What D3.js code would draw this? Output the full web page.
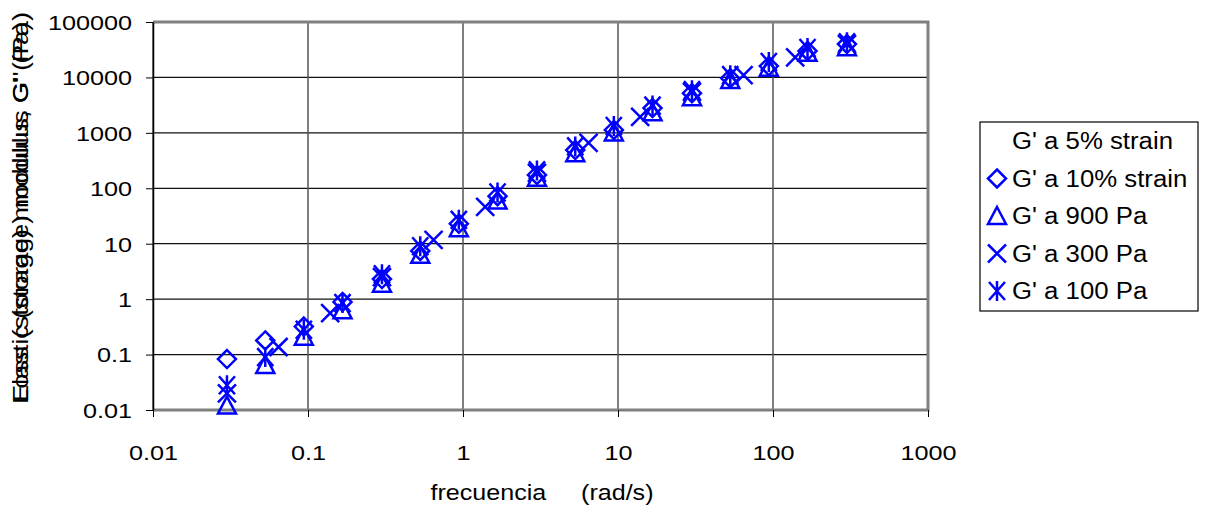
<!DOCTYPE html>
<html><head><meta charset="utf-8">
<script src="https://cdn.jsdelivr.net/npm/d3@7"></script>
<style>body{margin:0;background:#fff}svg{display:block}text{font-family:"Liberation Sans",Arial,sans-serif;fill:#000}</style>
</head><body>
<svg id="c" width="1206" height="506"></svg>
<script>
// ---- data ----
const xTicks = [0.01, 0.1, 1, 10, 100, 1000];
const xTickLabels = ["0.01", "0.1", "1", "10", "100", "1000"];
const yTicks = [0.01, 0.1, 1, 10, 100, 1000, 10000, 100000];
const yTickLabels = ["0.01", "0.1", "1", "10", "100", "1000", "10000", "100000"];
const freqA = [0.03, 0.053, 0.094, 0.167, 0.3, 0.53, 0.94, 1.67, 3, 5.3, 9.4, 16.7, 30, 53, 94, 167, 300];
const freqB = [0.03, 0.0646, 0.139, 0.3, 0.646, 1.39, 3, 6.46, 13.9, 30, 64.6, 139, 300];
const g5strain = [];
const g10strain = [0.083, 0.18, 0.32, 0.89, 2.3, 7.4, 23, 72, 174, 490, 1130, 2800, 5200, 9700, 16000, 30000, 40000];
const g900Pa = [0.012, 0.065, 0.21, 0.63, 1.9, 6.3, 19, 60, 155, 430, 1020, 2350, 4400, 9000, 15000, 28000, 35000];
const g300Pa = [0.02, 0.137, 0.56, 2.5, 11.7, 46, 190, 660, 1940, 5500, 11000, 23000, 40000];
const g100Pa = [0.028, 0.09, 0.28, 0.85, 2.8, 9, 27, 84, 210, 570, 1330, 3100, 5900, 11000, 19000, 34000, 43000];
const seriesNames = ["G' a 5% strain", "G' a 10% strain", "G' a 900 Pa", "G' a 300 Pa", "G' a 100 Pa"];
const xTitle = "frecuencia     (rad/s)";
const yTitleA = "Elastic (storage) modulus G' (Pa)";
const yTitleB = "Loss (storage) modulus, G'' (Pa)";

const series = [
  {name: seriesNames[0], freq: [], vals: g5strain, sym: "none"},
  {name: seriesNames[1], freq: freqA, vals: g10strain, sym: "diamond"},
  {name: seriesNames[2], freq: freqA, vals: g900Pa, sym: "triangle"},
  {name: seriesNames[3], freq: freqB, vals: g300Pa, sym: "x"},
  {name: seriesNames[4], freq: freqA, vals: g100Pa, sym: "star"}
];

const svg = d3.select("#c");
const L = 153, R = 928, T = 22, B = 410;
const x = d3.scaleLog().domain([0.01, 1000]).range([L, R]);
const y = d3.scaleLog().domain([0.01, 100000]).range([B, T]);
const blue = "#0000ff";
const FONT = "Liberation Sans, Arial, sans-serif";

function stretch(sel, f) {
  sel.each(function () {
    const w = this.getComputedTextLength();
    d3.select(this).attr("textLength", w * f).attr("lengthAdjust", "spacingAndGlyphs");
  });
}

// gridlines
svg.append("g").selectAll("line").data(yTicks).join("line")
  .attr("x1", L).attr("x2", R).attr("y1", d => y(d)).attr("y2", d => y(d))
  .attr("stroke", "#111").attr("stroke-width", 1.2);
svg.append("g").selectAll("line").data(xTicks).join("line")
  .attr("x1", d => x(d)).attr("x2", d => x(d)).attr("y1", T).attr("y2", B)
  .attr("stroke", "#555").attr("stroke-width", 1.5);

// frame (top, right, bottom gray)
svg.append("path").attr("d", `M${L},${T}H${R}V${B}H${L}`).attr("fill", "none")
  .attr("stroke", "#808080").attr("stroke-width", 3);

// axes
const yAxis = d3.axisLeft(y).tickValues(yTicks).tickFormat((d, i) => yTickLabels[i]).tickSize(7).tickSizeOuter(0).tickPadding(14);
const gy = svg.append("g").attr("transform", `translate(${L},0)`).call(yAxis);
gy.select(".domain").attr("stroke", "#000").attr("stroke-width", 1.5);
gy.selectAll("line").attr("stroke", "#000");
gy.selectAll("text").attr("font-size", 21).attr("font-family", FONT).attr("dy", "0.35em").call(stretch, 1.2);

const xAxis = d3.axisBottom(x).tickValues(xTicks).tickFormat((d, i) => xTickLabels[i]).tickSize(7).tickSizeOuter(0).tickPadding(28);
const gx = svg.append("g").attr("transform", `translate(0,${B})`).call(xAxis);
gx.select(".domain").remove();
gx.selectAll("line").attr("stroke", "#000");
gx.selectAll("text").attr("font-size", 21).attr("font-family", FONT).call(stretch, 1.2);

// titles
svg.append("text").attr("x", 542).attr("y", 500).attr("text-anchor", "middle").attr("font-size", 22)
  .attr("xml:space", "preserve").style("white-space", "pre").text(xTitle).call(stretch, 1.14);
svg.append("text").attr("transform", "translate(28,212) rotate(-90)").attr("text-anchor", "middle")
  .attr("font-size", 22).attr("textLength", 380).attr("lengthAdjust", "spacingAndGlyphs").text(yTitleA);
svg.append("text").attr("transform", "translate(28,208) rotate(-90)").attr("text-anchor", "middle")
  .attr("font-size", 22).attr("textLength", 392).attr("lengthAdjust", "spacingAndGlyphs").text(yTitleB);

// marker shapes
function markerPath(sym) {
  const p = d3.path();
  if (sym === "diamond") { p.moveTo(0, -9); p.lineTo(9, 0); p.lineTo(0, 9); p.lineTo(-9, 0); p.closePath(); }
  else if (sym === "triangle") { p.moveTo(0, -9); p.lineTo(9, 8); p.lineTo(-9, 8); p.closePath(); }
  else if (sym === "x") { p.moveTo(-9, -9); p.lineTo(9, 9); p.moveTo(9, -9); p.lineTo(-9, 9); }
  else if (sym === "star") { p.moveTo(-8, -9); p.lineTo(8, 9); p.moveTo(8, -9); p.lineTo(-8, 9); p.moveTo(0, -10); p.lineTo(0, 10); }
  return p.toString();
}

// points
series.forEach(s => {
  if (s.sym === "none") return;
  const pts = s.vals.map((v, i) => ({f: s.freq[i], v}));
  svg.append("g").selectAll("path").data(pts).join("path")
    .attr("transform", d => `translate(${x(d.f)},${y(d.v)})`)
    .attr("d", markerPath(s.sym)).attr("fill", "none")
    .attr("stroke", blue).attr("stroke-width", 2.5);
});

// legend
const lg = svg.append("g");
lg.append("rect").attr("x", 980).attr("y", 122).attr("width", 218).attr("height", 189)
  .attr("fill", "#fff").attr("stroke", "#000").attr("stroke-width", 1.2);
series.forEach((s, i) => {
  const cy = 141 + i * 37.5;
  if (s.sym !== "none")
    lg.append("path").attr("transform", `translate(997,${cy})`).attr("d", markerPath(s.sym))
      .attr("fill", "none").attr("stroke", blue).attr("stroke-width", 2.5);
  lg.append("text").attr("x", 1012).attr("y", cy).attr("dy", "0.35em").attr("font-size", 23).text(s.name).call(stretch, 1.12);
});
</script>
</body></html>
